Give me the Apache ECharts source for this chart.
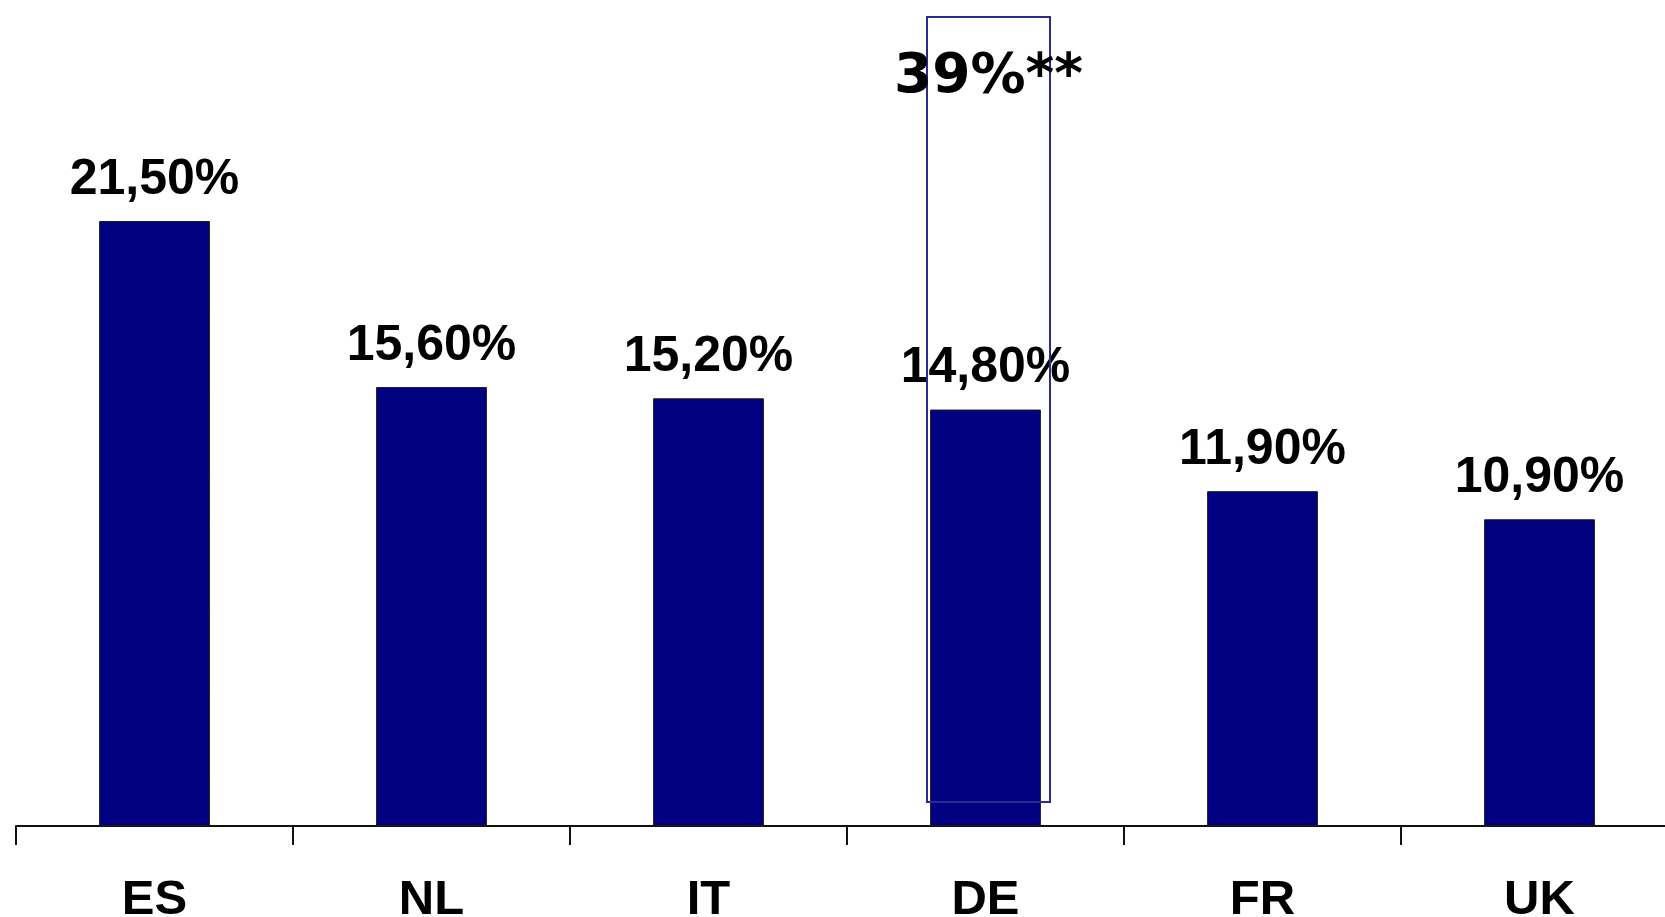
<!DOCTYPE html>
<html>
<head>
<meta charset="utf-8">
<script src="https://cdn.jsdelivr.net/npm/echarts@6/dist/echarts.min.js"></script>
<style>
  html, body { margin: 0; padding: 0; background: #fff; }
  #chart { width: 1665px; height: 917px; }
</style>
</head>
<body>
<div id="chart"></div>
<script>
const countries = ['ES', 'NL', 'IT', 'DE', 'FR', 'UK']
const shares = [21.5, 15.6, 15.2, 14.8, 11.9, 10.9]

// the framed note over DE: [category, low, high, label value, label]
const noteBox = [['DE', 0.85, 28.75, 26.6, '39%**']]

const chart = echarts.init(document.getElementById('chart'))

chart.setOption({
  backgroundColor: '#fff',
  animation: false,
  grid: {
    left: 16, top: 10, width: 1662, height: 816,
    containLabel: false, outerBoundsMode: 'none'
  },
  xAxis: {
    type: 'category',
    data: countries,
    boundaryGap: true,
    axisLine: { lineStyle: { color: '#111', width: 2 } },
    axisTick: { show: true, length: 19, lineStyle: { color: '#111', width: 2 } },
    axisLabel: {
      margin: 50,
      color: '#000',
      fontFamily: 'Liberation Sans, Arial, sans-serif',
      fontWeight: 'bold',
      fontSize: 49
    }
  },
  yAxis: {
    type: 'value',
    min: 0,
    max: 29,
    show: false,
    splitLine: { show: false }
  },
  series: [
    {
      type: 'bar',
      data: shares,
      barWidth: '40%',
      itemStyle: { color: '#000080', borderColor: '#1a1a1a', borderWidth: 1 },
      label: {
        show: true,
        position: 'top',
        distance: 16,
        color: '#000',
        fontFamily: 'Liberation Sans, Arial, sans-serif',
        fontWeight: 'bold',
        fontSize: 50,
        formatter: p => p.value.toFixed(2).replace('.', ',') + '%'
      }
    },
    {
      type: 'custom',
      data: noteBox,
      z: 5,
      renderItem: (params, api) => {
        const cat = api.value(0)
        const lo = api.coord([cat, api.value(1)])
        const hi = api.coord([cat, api.value(2)])
        const txt = api.coord([cat, api.value(3)])
        const w = api.size([1, 0])[0] * 0.444
        return {
          type: 'group',
          children: [
            {
              type: 'rect',
              shape: { x: lo[0] - w / 2 + 3, y: hi[1], width: w, height: lo[1] - hi[1] },
              style: { fill: 'none', stroke: '#2b2b8f', lineWidth: 2 }
            },
            {
              type: 'text',
              x: txt[0] + 3,
              y: txt[1],
              style: {
                text: noteBox[params.dataIndex][4],
                fill: '#000',
                font: 'bold 55px "DejaVu Sans", Verdana, sans-serif',
                align: 'center',
                verticalAlign: 'middle'
              }
            }
          ]
        }
      }
    }
  ]
})
</script>
</body>
</html>
